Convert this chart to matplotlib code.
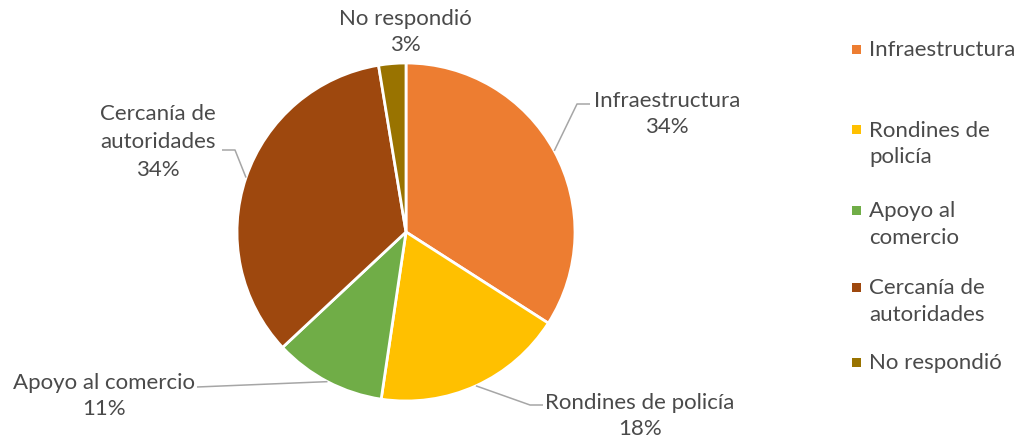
import matplotlib
matplotlib.use("Agg")
import matplotlib.pyplot as plt
from matplotlib.patches import Rectangle
import numpy as np

categories = ["Infraestructura", "Rondines de policía", "Apoyo al comercio",
              "Cercanía de autoridades", "No respondió"]
values = [34.1, 18.3, 10.7, 34.4, 2.6]
legend_labels = ["Infraestructura", "Rondines de\npolicía", "Apoyo al\ncomercio",
                 "Cercanía de\nautoridades", "No respondió"]
pie_labels = ["Infraestructura", "Rondines de policía", "Apoyo al comercio",
              "Cercanía de\nautoridades", "No respondió"]
colors = ["#ED7D31", "#FFC000", "#70AD47", "#9E480E", "#997300"]

W, H = 1020, 441
fig = plt.figure(figsize=(W / 100, H / 100), dpi=100)
ax = fig.add_axes([0, 0, 1, 1])
R = 169.0
cx, cy = 406.0, 441 - 232.0

FONT = "Lato"
FS = 16
TC = "#4a4a4a"

wedges, _ = ax.pie(values, colors=colors, startangle=90, counterclock=False,
                   radius=1.0, wedgeprops=dict(edgecolor="white", linewidth=2))
ax.set_xlim(-cx / R, (W - cx) / R)
ax.set_ylim(-cy / R, (H - cy) / R)
ax.set_aspect("equal")
ax.axis("off")

total = sum(values)
pcts = [f"{round(v / total * 100):d}%" for v in values]


def px(x, y):
    return ((x - cx) / R, ((H - y) - cy) / R)

# label anchor positions (pixels), and leader line elbows
label_pos = [(667, 114), (640, 416), (104, 396), (158, 142), (405, 32)]
label_ls = [1.4, 1.38, 1.38, 1.5, 1.42]
elbows = [
    [(577, 104), (590, 104)],
    [(530, 405), (543, 405)],
    [(197, 387)],
    [(235, 150), (222, 150)],
    None,
]

cum = 0.0
for i, (v, lab, pct) in enumerate(zip(values, pie_labels, pcts)):
    mid = (cum + v / 2) / total
    cum += v
    ang = np.deg2rad(90 - mid * 360)
    ex, ey = np.cos(ang), np.sin(ang)
    x, y = px(*label_pos[i])
    ax.text(x, y, f"{lab}\n{pct}", ha="center", va="center", fontsize=FS,
            family=FONT, color=TC, linespacing=label_ls[i])
    if elbows[i]:
        pts = [(ex, ey)] + [px(*p) for p in elbows[i]]
        xs, ys = zip(*pts)
        ax.plot(xs, ys, color="#A6A6A6", lw=1.1, solid_capstyle="butt")

# legend
leg_y = [50, 144, 224.5, 301.5, 363]
for lab, c, ly in zip(legend_labels, colors, leg_y):
    nlines = lab.count("\n") + 1
    top = ly - (nlines - 1) * 14
    fig.add_artist(Rectangle(((852) / W, (H - top - 4) / H), 9 / W, 9 / H,
                             transform=fig.transFigure, facecolor=c, edgecolor="none"))
    fig.text(869 / W, (H - ly) / H, lab, ha="left", va="center", fontsize=FS,
             family=FONT, color=TC, linespacing=1.4)

fig.savefig("out.png", dpi=100, facecolor="white")
